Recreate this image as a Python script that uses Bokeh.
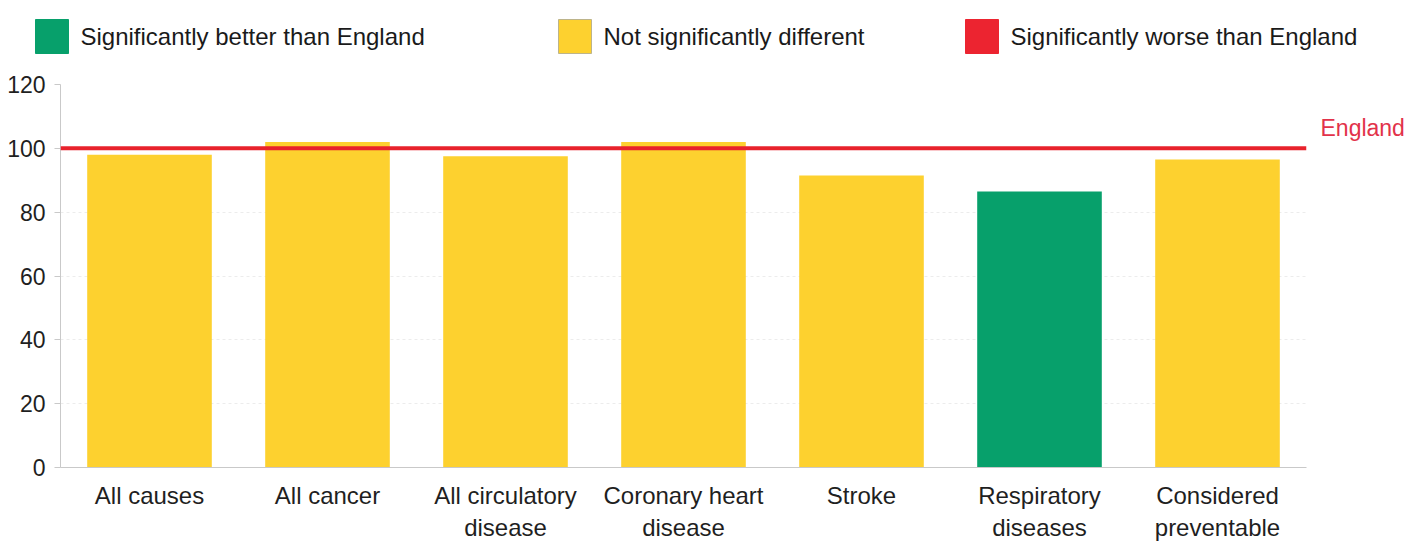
from bokeh.plotting import figure
from bokeh.layouts import column, row
from bokeh.models import Range1d, FactorRange, Span, ColumnDataSource, FixedTicker
from bokeh.embed import file_html
from bokeh.resources import INLINE

# ---- data ----
categories = ["All causes", "All cancer", "All circulatory\ndisease", "Coronary heart\ndisease",
              "Stroke", "Respiratory\ndiseases", "Considered\npreventable"]
values = [98, 102, 97.5, 102, 91.5, 86.5, 96.5]
status = ["not", "not", "not", "not", "not", "better", "not"]
england_value = 100
england_label = "England"
y_ticks = [0, 20, 40, 60, 80, 100, 120]

legend_labels = ["Significantly better than England", "Not significantly different",
                 "Significantly worse than England"]
status_keys = ["better", "not", "worse"]
status_colors = {"better": "#07A06B", "not": "#FDD12F", "worse": "#EC2430"}

FONT = "Liberation Sans"
W = 1405
LEG_H = 56
MAIN_H = 489
B_TOP, B_BOT = 28, 78
B_LEFT = 60
MAIN_W = 1312
SIDE_W = W - MAIN_W


def bare(fig):
    fig.grid.visible = False
    fig.outline_line_color = None
    return fig


# ---- legend strip ----
leg = bare(figure(width=W, height=LEG_H, x_range=Range1d(0, W), y_range=Range1d(LEG_H, 0),
                  output_backend="svg", toolbar_location=None, min_border=0,
                  x_axis_location=None, y_axis_location=None))
leg_x = [35, 558, 965]
leg_src = ColumnDataSource(dict(
    x=[x + 16.5 for x in leg_x], tx=[x + 45 for x in leg_x], y=[36, 36, 36],
    color=[status_colors[k] for k in status_keys], label=legend_labels,
    lc=[status_colors["better"], "#bdb48a", status_colors["worse"]]))
leg.rect(x="x", y="y", width=33, height=34, fill_color="color", line_color="lc", line_width=1,
         source=leg_src)
leg.text(x="tx", y="y", text="label", source=leg_src, text_font_size="24px",
         text_baseline="middle", text_align="left", text_color="#1a1a1a",
         text_font={"value": FONT})

# ---- main chart ----
p = figure(width=MAIN_W, height=MAIN_H, x_range=FactorRange(*categories), y_range=Range1d(0, 120),
           output_backend="svg", toolbar_location=None,
           min_border_left=B_LEFT, min_border_right=MAIN_W - 1306,
           min_border_top=B_TOP, min_border_bottom=B_BOT)
p.outline_line_color = None

src = ColumnDataSource(dict(x=categories, top=values,
                            color=[status_colors[s] for s in status]))
p.vbar(x="x", top="top", width=0.70, fill_color="color", line_color=None, source=src)

p.add_layout(Span(location=england_value, dimension="width", line_color="#E8222C",
                  line_width=4))

p.yaxis.ticker = FixedTicker(ticks=y_ticks)
for ax in (p.xaxis, p.yaxis):
    ax.axis_line_color = "#c9c9c9"
    ax.major_tick_line_color = "#c9c9c9"
    ax.minor_tick_line_color = None
    ax.major_label_text_font = FONT
    ax.major_label_text_color = "#1f1f1f"
p.yaxis.major_label_text_font_size = "23px"
p.xaxis.major_label_text_font_size = "24px"
p.yaxis.major_tick_out = 6
p.yaxis.major_tick_in = 0
p.yaxis.major_label_standoff = 9
p.xaxis.major_tick_line_color = None
p.xaxis.major_tick_out = 0
p.xaxis.major_tick_in = 0
p.xaxis.major_label_standoff = 14
p.xgrid.grid_line_color = None
p.ygrid.grid_line_color = "#ececec"
p.ygrid.grid_line_dash = "3 3"

# ---- side strip with the England label ----
side = bare(figure(width=SIDE_W, height=MAIN_H, x_range=Range1d(0, SIDE_W), y_range=Range1d(0, 120),
                   output_backend="svg", toolbar_location=None, min_border_left=0,
                   min_border_right=0, min_border_top=B_TOP, min_border_bottom=B_BOT,
                   x_axis_location=None, y_axis_location=None))
side.text(x=[8], y=[england_value + 6.5], text=[england_label], text_color="#E2324A",
          text_font_size="23px", text_font={"value": FONT}, text_baseline="middle",
          text_align="left")

layout = column(leg, row(p, side, spacing=0), spacing=0)
open("out.html", "w").write(file_html(layout, INLINE))
